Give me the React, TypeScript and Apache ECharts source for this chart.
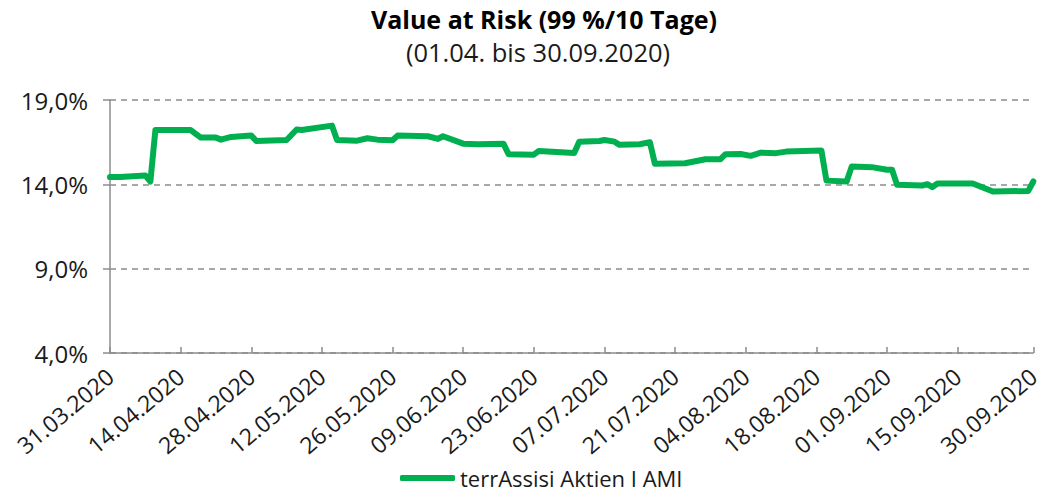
import React, { useEffect, useRef } from "react";
import * as echarts from "echarts";

const titleText = "Value at Risk (99 %/10 Tage)";
const subtitleText = "(01.04. bis 30.09.2020)";
const seriesName = "terrAssisi Aktien I AMI";

const startDate = "2020-03-31";
const endDate = "2020-09-30";

const dates = [
  "2020-03-31", "2020-04-02", "2020-04-07", "2020-04-08", "2020-04-09", "2020-04-16",
  "2020-04-18", "2020-04-21", "2020-04-22", "2020-04-24", "2020-04-28", "2020-04-29",
  "2020-05-05", "2020-05-07", "2020-05-08", "2020-05-14", "2020-05-15", "2020-05-19",
  "2020-05-21", "2020-05-23", "2020-05-26", "2020-05-27", "2020-06-02", "2020-06-04",
  "2020-06-05", "2020-06-09", "2020-06-12", "2020-06-17", "2020-06-18", "2020-06-23",
  "2020-06-24", "2020-07-01", "2020-07-02", "2020-07-06", "2020-07-07", "2020-07-09",
  "2020-07-10", "2020-07-14", "2020-07-16", "2020-07-17", "2020-07-23", "2020-07-27",
  "2020-07-30", "2020-07-31", "2020-08-03", "2020-08-05", "2020-08-07", "2020-08-10",
  "2020-08-12", "2020-08-19", "2020-08-20", "2020-08-24", "2020-08-25", "2020-08-29",
  "2020-09-01", "2020-09-02", "2020-09-03", "2020-09-08", "2020-09-09", "2020-09-10",
  "2020-09-11", "2020-09-18", "2020-09-22", "2020-09-29", "2020-09-30",
];

const values = [
  14.43, 14.44, 14.52, 14.17, 17.22, 17.22,
  16.77, 16.77, 16.65, 16.81, 16.89, 16.57,
  16.63, 17.25, 17.22, 17.48, 16.63, 16.59,
  16.73, 16.65, 16.61, 16.89, 16.85, 16.69,
  16.85, 16.41, 16.38, 16.40, 15.79, 15.76,
  15.98, 15.86, 16.53, 16.57, 16.63, 16.53,
  16.34, 16.38, 16.50, 15.22, 15.25, 15.49,
  15.49, 15.79, 15.80, 15.69, 15.88, 15.85,
  15.94, 16.00, 14.22, 14.17, 15.05, 15.02,
  14.86, 14.86, 13.97, 13.93, 14.01, 13.83,
  14.05, 14.05, 13.57, 13.61, 14.17,
];

// y axis ticks: 4,0% 9,0% 14,0% 19,0%
const yMin = 4;
const yMax = 19;
const yStep = 5;
// x axis ticks every 14 days from 31.03.2020, plus 30.09.2020
const xStepDays = 14;

const DAY = 24 * 3600 * 1000;
const toUtc = (s: string) => {
  const [y, m, d] = s.split("-").map(Number);
  return Date.UTC(y, m - 1, d);
};
const dayIndex = (s: string) => Math.round((toUtc(s) - toUtc(startDate)) / DAY);
const fmtDay = (idx: number) => {
  const dt = new Date(toUtc(startDate) + Math.round(idx) * DAY);
  const dd = String(dt.getUTCDate()).padStart(2, "0");
  const mm = String(dt.getUTCMonth() + 1).padStart(2, "0");
  return `${dd}.${mm}.${dt.getUTCFullYear()}`;
};

const FONT = "'Open Sans', 'Noto Sans', 'DejaVu Sans', sans-serif";
const GREEN = "#00b050";
const AXIS = "#8c8c8c";
const TEXT = "#1a1a1a";

export default function App() {
  const ref = useRef<HTMLDivElement>(null);
  useEffect(() => {
    if (!ref.current) return;
    const chart = echarts.init(ref.current, undefined, { renderer: "svg" });
    const data = dates.map((d, i) => [dayIndex(d), values[i] - yMin]);
    chart.setOption({
      animation: false,
      backgroundColor: "#ffffff",
      textStyle: { fontFamily: FONT },
      graphic: [
        {
          type: "text",
          x: 544,
          y: 19,
          style: {
            text: titleText,
            fontFamily: FONT,
            fontSize: 25,
            fontWeight: "bold",
            fill: "#000",
            align: "center",
            verticalAlign: "middle",
          },
        },
        {
          type: "text",
          x: 538,
          y: 52,
          style: {
            text: subtitleText,
            fontFamily: FONT,
            fontSize: 25.5,
            fontWeight: "normal",
            fill: TEXT,
            align: "center",
            verticalAlign: "middle",
          },
        },
      ],
      legend: {
        data: [{ name: seriesName, icon: "roundRect" }],
        left: 400,
        top: 467,
        padding: 0,
        itemWidth: 55,
        itemHeight: 6,
        itemGap: 10,
        textStyle: { fontFamily: FONT, fontSize: 22, color: TEXT, padding: [0, 0, 0, 0] },
      },
      grid: { left: 110, right: 4, top: 100, bottom: 146, containLabel: false },
      xAxis: {
        type: "value",
        min: 0,
        max: dayIndex(endDate),
        interval: xStepDays,
        axisLine: { show: true, lineStyle: { color: AXIS, width: 1.5 } },
        axisTick: { show: true, inside: true, length: 6, lineStyle: { color: AXIS, width: 1.5 } },
        splitLine: { show: false },
        axisLabel: {
          rotate: 40,
          margin: 20,
          fontFamily: FONT,
          fontSize: 23,
          color: TEXT,
          showMaxLabel: true,
          showMinLabel: true,
          formatter: (v: number) => fmtDay(v),
        },
      },
      yAxis: {
        type: "value",
        min: 0,
        max: yMax - yMin,
        interval: yStep,
        axisLine: { show: true, lineStyle: { color: AXIS, width: 1.5 } },
        axisTick: { show: true, inside: false, length: 7, lineStyle: { color: AXIS, width: 1.5 } },
        splitLine: {
          show: true,
          lineStyle: { color: "#8c8c8c", width: 1.5, type: [6, 5] },
        },
        axisLabel: {
          margin: 22,
          fontFamily: FONT,
          fontSize: 24,
          color: TEXT,
          formatter: (v: number) => (v + yMin).toFixed(1).replace(".", ",") + "%",
        },
      },
      series: [
        {
          name: seriesName,
          type: "line",
          data,
          symbol: "none",
          color: GREEN,
          lineStyle: { color: GREEN, width: 6, cap: "round", join: "round" },
        },
      ],
    });
    return () => chart.dispose();
  }, []);
  return (
    <div
      ref={ref}
      style={{ position: "absolute", left: 0, top: 0, width: 1043, height: 499 }}
    />
  );
}
